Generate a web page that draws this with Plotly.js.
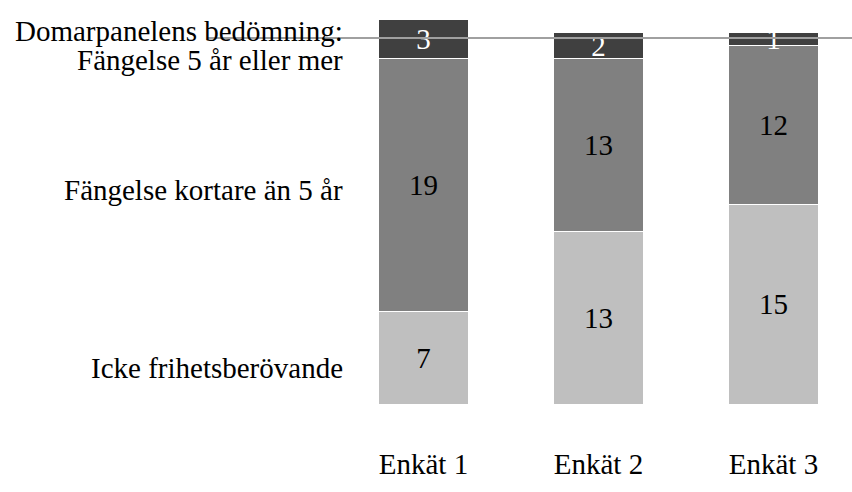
<!DOCTYPE html>
<html>
<head>
<meta charset="utf-8">
<script src="https://cdn.plot.ly/plotly-3.0.1.min.js"></script>
<style>html,body{margin:0;padding:0;background:#fff;}#chart{width:852px;height:492px;}</style>
</head>
<body>
<div id="chart"></div>
<script>
const categories = ["Enkät 1", "Enkät 2", "Enkät 3"];
const seriesNames = ["Icke frihetsberövande", "Fängelse kortare än 5 år", "Fängelse 5 år eller mer"];
const icke = [7, 13, 15];
const kortare = [19, 13, 12];
const femEllerMer = [3, 2, 1];
const colors = ["#bfbfbf", "#808080", "#404040"];
const textColors = ["#000000", "#000000", "#ffffff"];

const FONT = "'Liberation Serif', 'Times New Roman', serif";
const FS = 29;
const values = [icke, kortare, femEllerMer];
const traces = values.map((v, i) => ({
  type: "bar",
  name: seriesNames[i],
  x: categories,
  y: v,
  text: v.map(String),
  textposition: "inside",
  insidetextanchor: "middle",
  textangle: 0,
  constraintext: "none",
  textfont: {family: FONT, size: FS, color: textColors[i]},
  marker: {color: colors[i], line: {color: "#ffffff", width: 1}},
  width: 0.514,
  hoverinfo: "skip"
}));

const layout = {
  width: 852, height: 492,
  margin: {l: 336, r: 0, t: 19, b: 88},
  barmode: "stack",
  showlegend: false,
  paper_bgcolor: "#ffffff",
  plot_bgcolor: "#ffffff",
  font: {family: FONT, size: FS, color: "#000000"},
  xaxis: {
    type: "category",
    range: [-0.5, 2.449],
    showgrid: false, zeroline: false, showline: false,
    ticks: "outside", ticklen: 34, tickcolor: "rgba(0,0,0,0)",
    tickfont: {family: FONT, size: FS, color: "#000000"}
  },
  yaxis: {
    range: [0, 29],
    visible: false, showgrid: false, zeroline: false
  },
  shapes: [{
    type: "line", xref: "paper", yref: "paper",
    x0: -0.25, x1: 1.0, y0: 0.9506, y1: 0.9506,
    line: {color: "#a0a0a0", width: 2}, layer: "above"
  }],
  annotations: [
    {text: "Domarpanelens bedömning:", xref: "paper", yref: "paper", x: 0.017, y: 0.969, xanchor: "right", yanchor: "middle", showarrow: false, font: {family: FONT, size: FS, color: "#000"}},
    {text: "Fängelse 5 år eller mer", xref: "paper", yref: "paper", x: 0.017, y: 0.894, xanchor: "right", yanchor: "middle", showarrow: false, font: {family: FONT, size: FS, color: "#000"}},
    {text: "Fängelse kortare än 5 år", xref: "paper", yref: "paper", x: 0.017, y: 0.556, xanchor: "right", yanchor: "middle", showarrow: false, font: {family: FONT, size: FS, color: "#000"}},
    {text: "Icke frihetsberövande", xref: "paper", yref: "paper", x: 0.017, y: 0.094, xanchor: "right", yanchor: "middle", showarrow: false, font: {family: FONT, size: FS, color: "#000"}}
  ]
};

Plotly.newPlot("chart", traces, layout, {displayModeBar: false, staticPlot: true});
</script>
</body>
</html>
